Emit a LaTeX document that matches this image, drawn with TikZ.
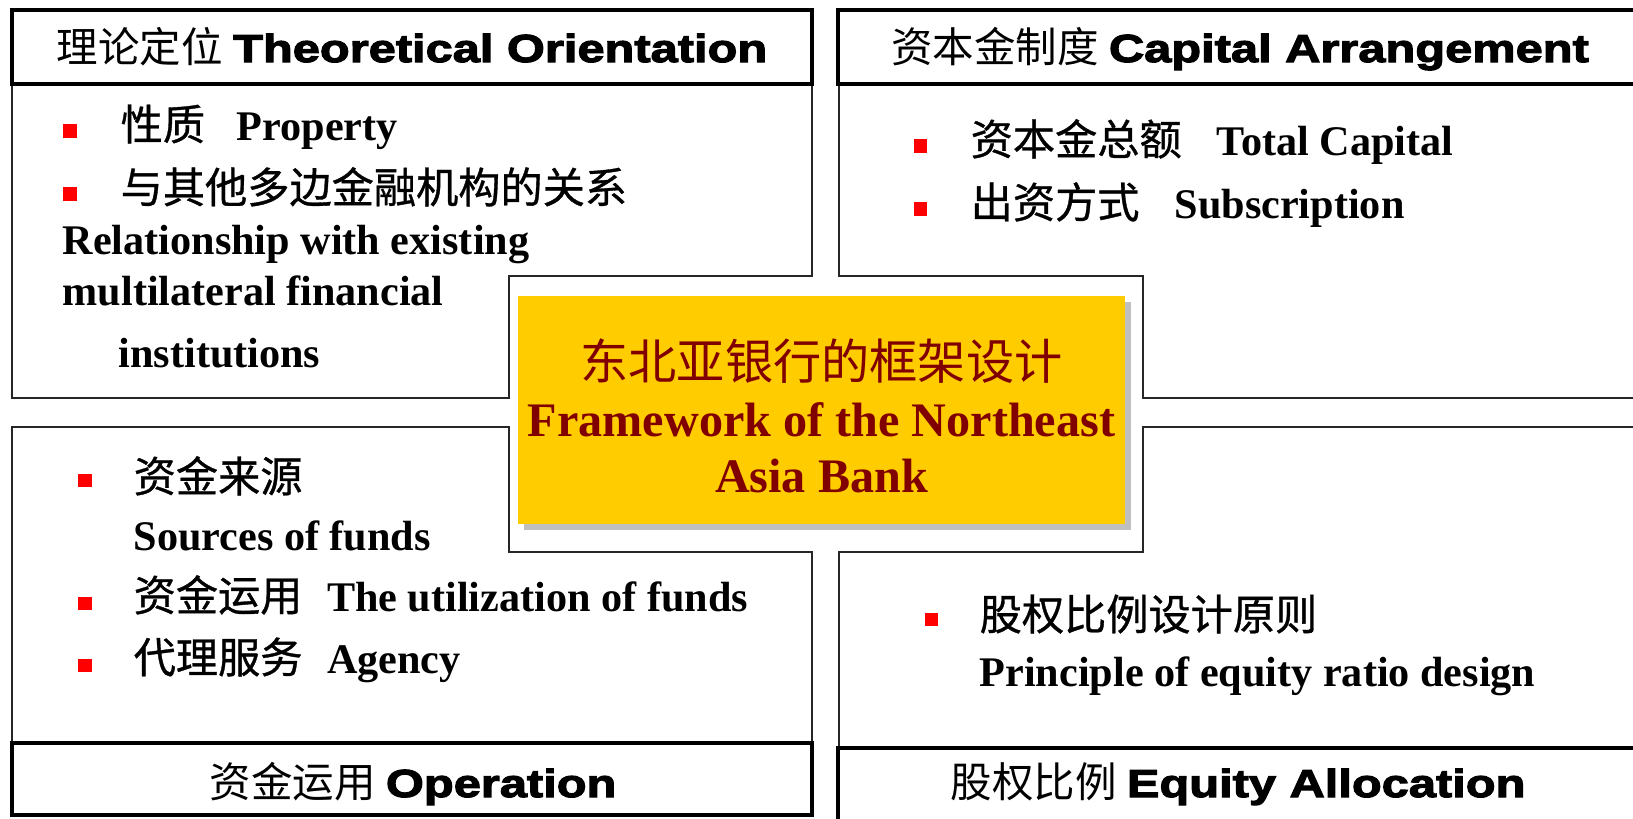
\documentclass[tikz,border=0pt]{standalone}
\usepackage{fontspec}
\usetikzlibrary{shadows}
\setmainfont{Liberation Serif}
\newfontfamily\zhfont{Noto Sans CJK SC}[FakeBold=0.8]
\newfontfamily\zhlight{Noto Sans CJK SC}
\newfontfamily\headfont{Liberation Sans}[FakeStretch=1.25,BoldFeatures={FakeBold=3}]
\newcommand\zhtxt[1]{{\zhfont\mdseries #1}}
\newcommand\zhthin[1]{{\zhlight\mdseries #1}}
\newcommand\hdeng[1]{{\fontsize{11.1}{13}\headfont\bfseries #1}}
\definecolor{gold}{HTML}{FFCC00}
\definecolor{darkred}{HTML}{800000}

\tikzset{
  panel/.style={draw=black!85, line width=0.6pt},
  headbox/.style={draw=black, line width=1.3pt},
  bul/.style={fill=red, inner sep=0pt, minimum size=0.13cm},
  item/.style={anchor=base west, inner sep=0pt, font=\fontsize{12}{14}\selectfont\bfseries},
  headtxt/.style={anchor=base, inner sep=0pt, font=\fontsize{11.8}{14}\selectfont},
}

\begin{document}
\begin{tikzpicture}[x=0.01cm, y=-0.01cm]
    \useasboundingbox (0,0) rectangle (1633,818);
    \clip (0,0) rectangle (1633,818);
    % panels
    \draw[panel] (12,84) -- (12,398) -- (509,398) -- (509,276) -- (812,276) -- (812,84);
    \draw[panel] (839,84) -- (839,276) -- (1143,276) -- (1143,398) -- (1660,398);
    \draw[panel] (12,743) -- (12,427) -- (509,427) -- (509,552) -- (812,552) -- (812,743);
    \draw[panel] (1660,427) -- (1143,427) -- (1143,552) -- (839,552) -- (839,748);
    \draw[headbox] (12,10) rectangle (812,84);
    \draw[headbox] (838,10) rectangle (1645,84);
    \draw[headbox] (12,743) rectangle (812,815);
    \draw[headbox] (838,748) rectangle (1645,830);
    % headers
    \node[headtxt] (theory) at (412,62) {\zhthin{理论定位} \hdeng{Theoretical Orientation}};
    \node[headtxt] (capital) at (1240,62) {\zhthin{资本金制度} \hdeng{Capital Arrangement}};
    \node[headtxt] (operation) at (413,797) {\zhthin{资金运用} \hdeng{Operation}};
    \node[headtxt] (equity) at (1238,797) {\zhthin{股权比例} \hdeng{Equity Allocation}};
    % centre
    \node[fill=gold, minimum width=6.06cm, minimum height=2.27cm,
          drop shadow={shadow xshift=0.06cm, shadow yshift=-0.06cm}] (core) at (821.5,410) {};
    \node[align=center, text=darkred, font=\fontsize{13.7}{16}\selectfont\bfseries]
          (coretext) at (821.5,416) {\zhthin{东北亚银行的框架设计}\\Framework of the Northeast\\Asia Bank};
    % theoretical orientation
    \node[bul] (b1) at (70,131) {};
    \node[item] (property) at (120,140) {\zhtxt{性质}\hspace{9pt}Property};
    \node[bul] (b2) at (70,194) {};
    \node[item] (relation) at (120,203) {\zhtxt{与其他多边金融机构的关系}};
    \node[item] (rel1) at (62,254) {Relationship with existing};
    \node[item] (rel2) at (62,305) {multilateral financial};
    \node[item] (rel3) at (118,367) {institutions};
    % capital arrangement
    \node[bul] (b3) at (920,146) {};
    \node[item] (total) at (970,155) {\zhtxt{资本金总额}\hspace{10pt}Total Capital};
    \node[bul] (b4) at (920,209) {};
    \node[item] (subscr) at (970,218) {\zhtxt{出资方式}\hspace{10pt}Subscription};
    % operation
    \node[bul] (b5) at (85,480) {};
    \node[item] (sources) at (133,492) {\zhtxt{资金来源}};
    \node[item] (sourcesen) at (133,550) {Sources of funds};
    \node[bul] (b6) at (85,603) {};
    \node[item] (usage) at (133,611) {\zhtxt{资金运用}\hspace{7pt}The utilization of funds};
    \node[bul] (b7) at (85,665) {};
    \node[item] (agency) at (133,673) {\zhtxt{代理服务}\hspace{7pt}Agency};
    % equity allocation
    \node[bul] (b8) at (931,619) {};
    \node[item] (principle) at (979,630) {\zhtxt{股权比例设计原则}};
    \node[item] (principleen) at (979,686) {Principle of equity ratio design};
\end{tikzpicture}
\end{document}
